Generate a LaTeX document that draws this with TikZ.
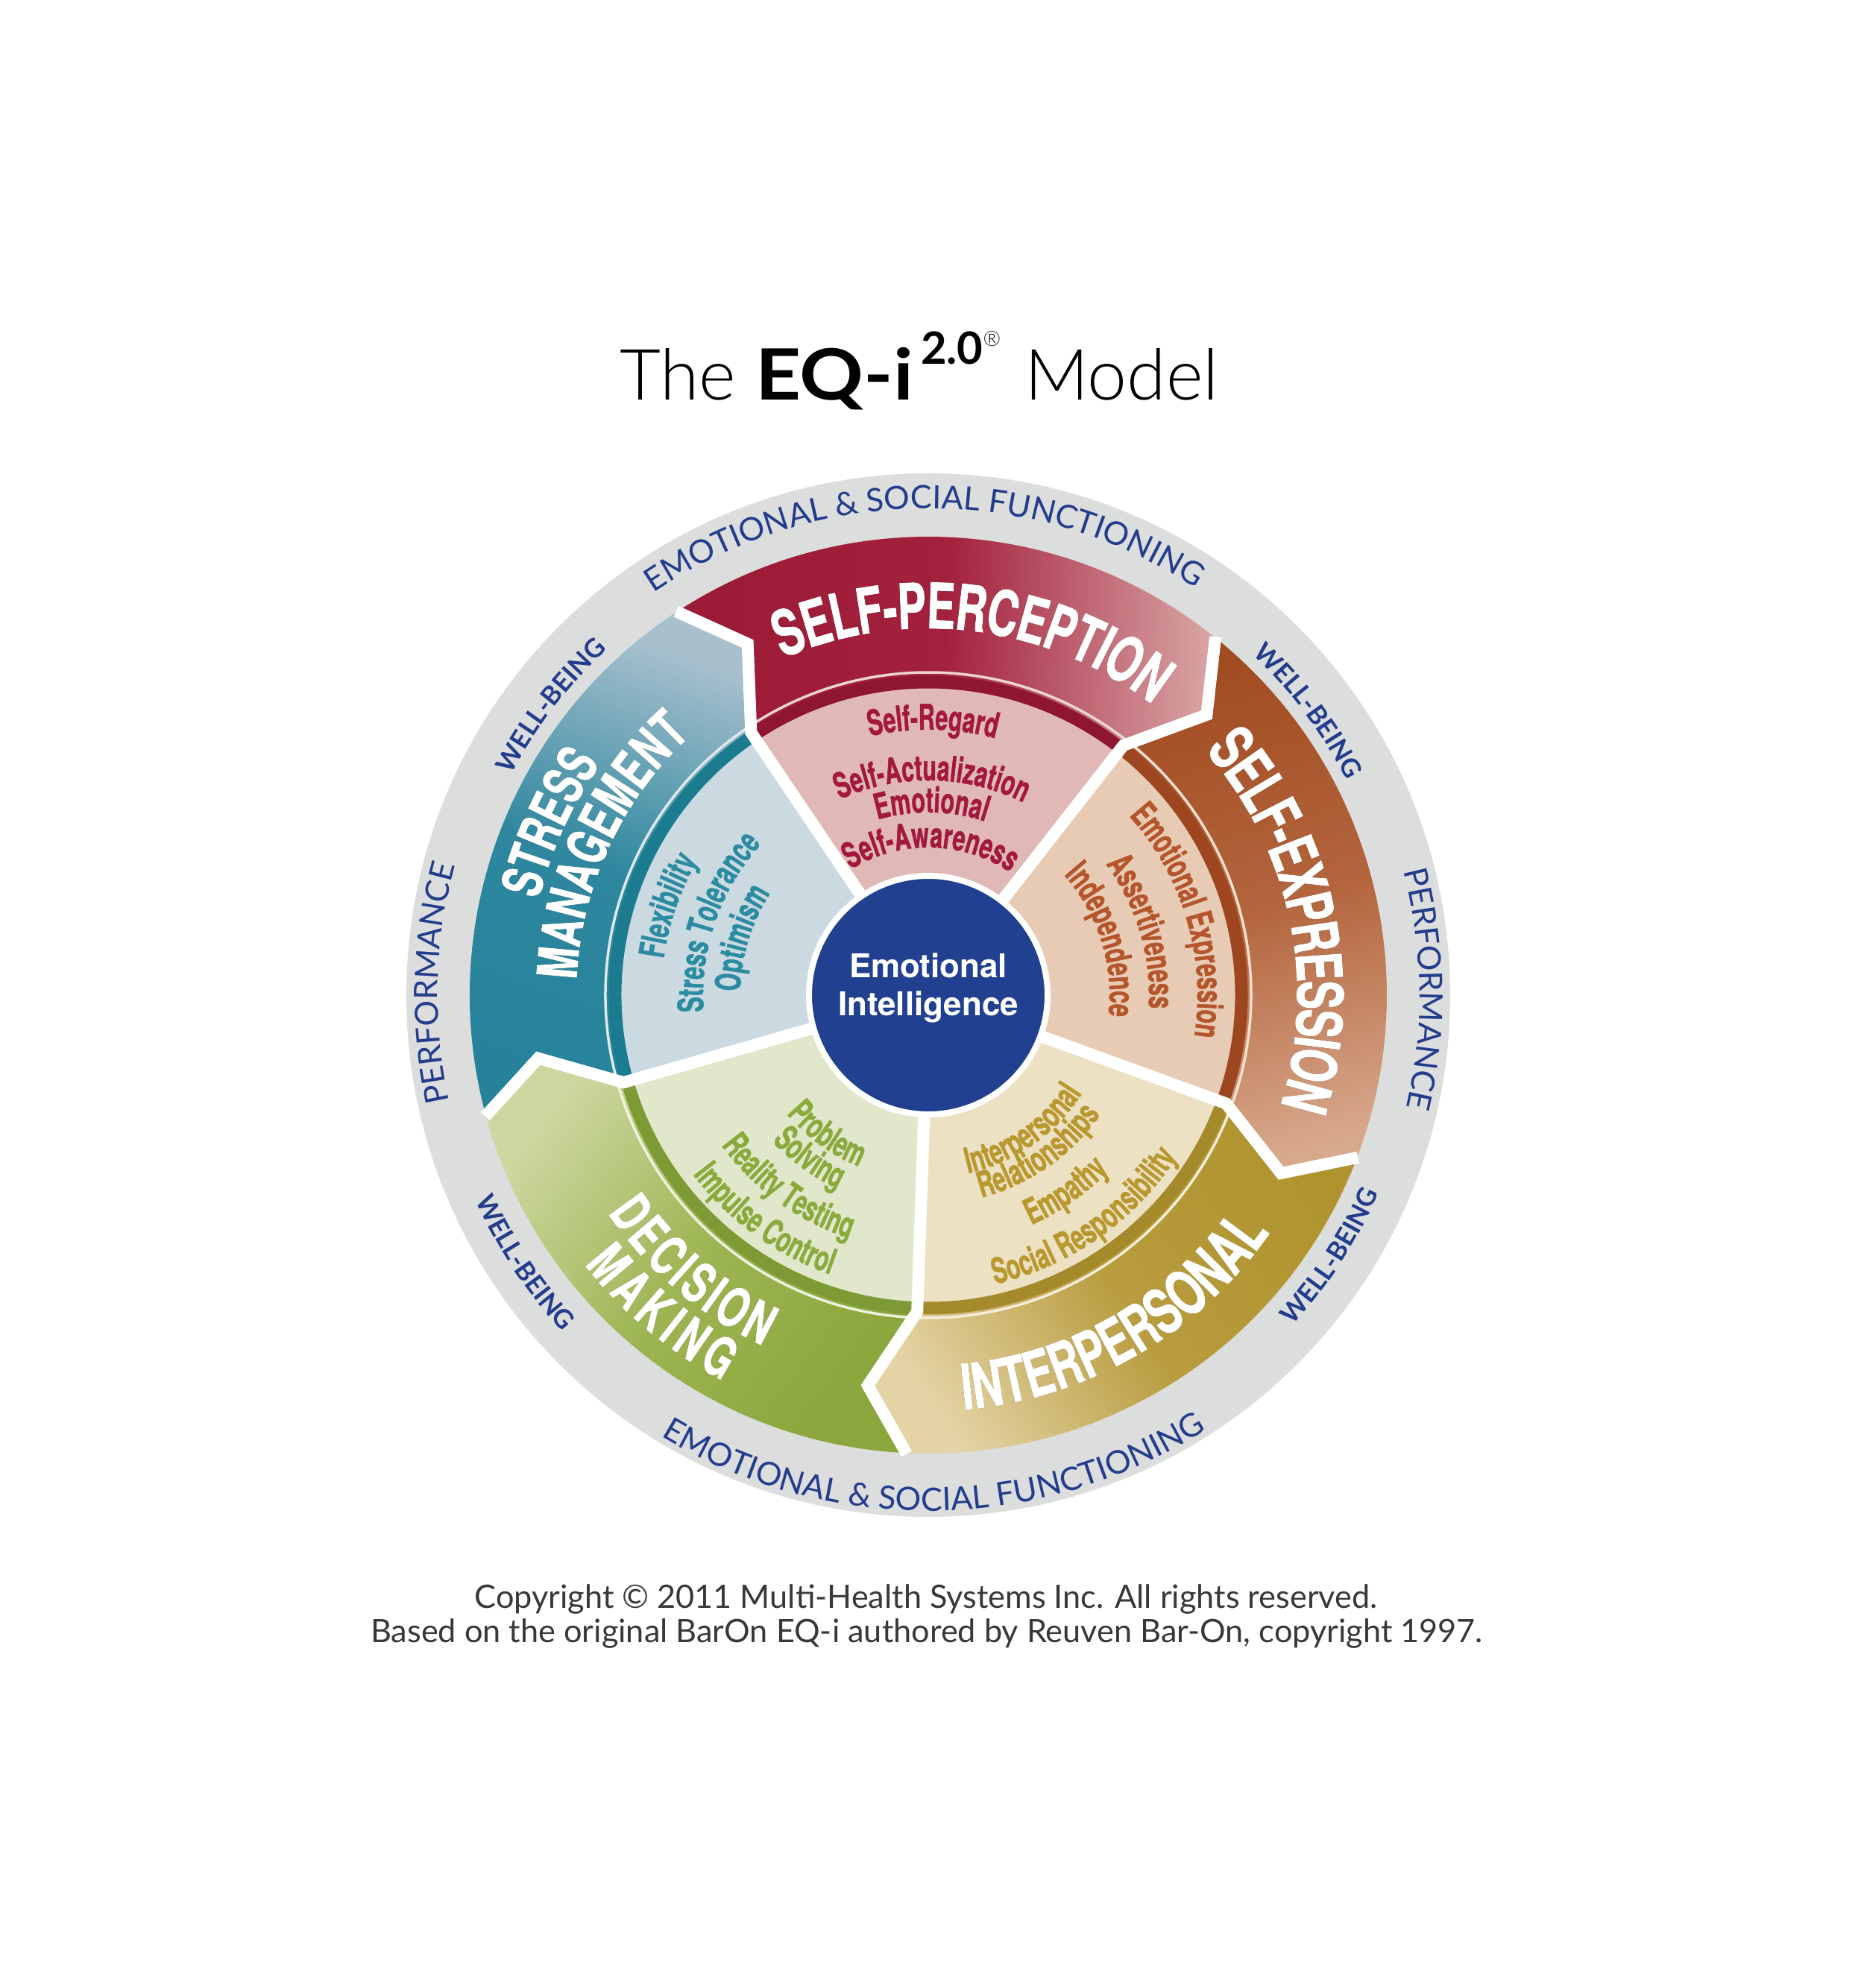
\documentclass[tikz,border=0pt]{standalone}
\usepackage{graphicx}
\usepackage{fontspec}
\setmainfont{Lato}
\newfontfamily\condfam{TeX Gyre Heros}[FakeStretch=0.68, BoldFeatures={FakeBold=1}]
\newfontfamily\subfam{TeX Gyre Heros}[FakeStretch=0.64, BoldFeatures={FakeBold=1}]
\newfontfamily\herosfam{TeX Gyre Heros}
\IfFontExistsTF{Lato Light}{\newfontfamily\titlefam{Lato Light}}{\newfontfamily\titlefam{Lato}}
\usetikzlibrary{decorations.text}

\newcommand\subfont{\subfam\bfseries\fontsize{13.5}{13.5}\selectfont}
\newcommand\ringfont{\fontsize{12.3}{12.3}\selectfont}
\newcommand\wbfont{\bfseries\fontsize{10}{10}\selectfont}

\definecolor{ringgray}{HTML}{DCDEDE}
\definecolor{ringtext}{HTML}{233C8C}
\definecolor{eiblue}{HTML}{21408F}
\definecolor{spdark}{HTML}{9B1A35}\definecolor{spmid}{HTML}{A3213D}\definecolor{splight}{HTML}{D8A3A3}
\definecolor{spinner}{HTML}{E0B9B7}\definecolor{spband}{HTML}{8E1631}\definecolor{sptext}{HTML}{A3193D}
\definecolor{sedark}{HTML}{A24C22}\definecolor{semid}{HTML}{B3653D}\definecolor{selight}{HTML}{D8A88C}
\definecolor{seinner}{HTML}{E8CBB4}\definecolor{seband}{HTML}{9D4620}\definecolor{setext}{HTML}{B5552B}
\definecolor{ipdark}{HTML}{B0942E}\definecolor{ipmid}{HTML}{B89C3E}\definecolor{iplight}{HTML}{E4D3A5}
\definecolor{ipinner}{HTML}{ECE1C3}\definecolor{ipband}{HTML}{A58A2C}\definecolor{iptext}{HTML}{B8982F}
\definecolor{dmdark}{HTML}{8BA63C}\definecolor{dmmid}{HTML}{9DB552}\definecolor{dmlight}{HTML}{CDD7A0}
\definecolor{dminner}{HTML}{E1E7CA}\definecolor{dmband}{HTML}{7E9A34}\definecolor{dmtext}{HTML}{8BAA3D}
\definecolor{smdark}{HTML}{25829A}\definecolor{smmid}{HTML}{2E879E}\definecolor{smlight}{HTML}{A8C0CE}
\definecolor{sminner}{HTML}{CBD9E1}\definecolor{smband}{HTML}{1B7C8F}\definecolor{smtext}{HTML}{2B8CA1}

\tikzset{
  catlabel/.style n args={4}{
    preaction={decorate, transform canvas={shift={(0.5mm,-0.5mm)}},
      decoration={text along path, text align=center, text color=#2,
        text={|\condfam\bfseries\fontsize{#4}{#4}\selectfont\kern#3|#1}}},
    postaction={decorate,
      decoration={text along path, text align=center, text color=white,
        text={|\condfam\bfseries\fontsize{#4}{#4}\selectfont\kern#3|#1}}}},
  sublabel/.style 2 args={decorate,
    decoration={text along path, text align=center, text color=#2, text={|\subfont|#1}}},
  ringlabel/.style={decorate,
    decoration={text along path, text align=center, text color=ringtext, text={|\ringfont|#1}}},
  wblabel/.style={decorate,
    decoration={text along path, text align=center, text color=ringtext, text={|\wbfont|#1}}},
  gap/.style={draw=white, line width=1.6mm},
  band/.style={draw=#1, line width=1.7mm},
  shine/.style={draw=#1!60!white, line width=0.35mm},
  eicircle/.style={circle, fill=eiblue, draw=white, line width=0.8mm, minimum size=3.2cm, inner sep=0pt},
  eilabel/.style={text=white, align=center, font=\herosfam\bfseries\fontsize{12.5}{14.5}\selectfont},
  titletext/.style={anchor=base, font=\titlefam\fontsize{27}{27}\selectfont},
  note/.style={anchor=base, text=black!78, font=\fontsize{12.3}{12.3}\selectfont}
}

\begin{document}
\begin{tikzpicture}
  \useasboundingbox (-12.45,-13.32) rectangle (12.55,13.35);
  \fill[white] (-12.45,-13.32) rectangle (12.55,13.35);
  \fill[ringgray] (0,0) circle[radius=7];

  \shade[top color=sedark, bottom color=selight, middle color=semid, shading angle=16]
    (-20:4.12) -- (-20:4.25) -- (-26.8:5.3) -- (-20.7:6.15) arc[start angle=-20.7, end angle=51.3, radius=6.15]
    -- (45.2:5.3) -- (52:4.25) -- (52:4.12) arc[start angle=52, end angle=-20, radius=4.12] -- cycle;
  \shade[top color=spdark, bottom color=splight, middle color=spmid, shading angle=88]
    (52:4.12) -- (52:4.25) -- (45.2:5.3) -- (51.3:6.15) arc[start angle=51.3, end angle=123.3, radius=6.15]
    -- (117.2:5.3) -- (124:4.25) -- (124:4.12) arc[start angle=124, end angle=52, radius=4.12] -- cycle;
  \shade[top color=smdark, bottom color=smlight, middle color=smmid, shading angle=160]
    (124:4.12) -- (124:4.25) -- (117.2:5.3) -- (123.3:6.15) arc[start angle=123.3, end angle=195.3, radius=6.15]
    -- (189.2:5.3) -- (196:4.25) -- (196:4.12) arc[start angle=196, end angle=124, radius=4.12] -- cycle;
  \shade[top color=dmdark, bottom color=dmlight, middle color=dmmid, shading angle=232]
    (196:4.12) -- (196:4.25) -- (189.2:5.3) -- (195.3:6.15) arc[start angle=195.3, end angle=267.3, radius=6.15]
    -- (261.2:5.3) -- (268:4.25) -- (268:4.12) arc[start angle=268, end angle=196, radius=4.12] -- cycle;
  \shade[top color=ipdark, bottom color=iplight, middle color=ipmid, shading angle=-56]
    (268:4.12) -- (268:4.25) -- (261.2:5.3) -- (267.3:6.15) arc[start angle=267.3, end angle=339.3, radius=6.15]
    -- (333.2:5.3) -- (340:4.25) -- (340:4.12) arc[start angle=340, end angle=268, radius=4.12] -- cycle;

  \fill[seinner] (0,0) -- (-20:4.12) arc[start angle=-20, end angle=52, radius=4.12] -- cycle;
  \fill[spinner] (0,0) -- (52:4.12) arc[start angle=52, end angle=124, radius=4.12] -- cycle;
  \fill[sminner] (0,0) -- (124:4.12) arc[start angle=124, end angle=196, radius=4.12] -- cycle;
  \fill[dminner] (0,0) -- (196:4.12) arc[start angle=196, end angle=268, radius=4.12] -- cycle;
  \fill[ipinner] (0,0) -- (268:4.12) arc[start angle=268, end angle=340, radius=4.12] -- cycle;

  \draw[band=seband] (-20:4.2) arc[start angle=-20, end angle=52, radius=4.2];
  \draw[band=spband] (52:4.2) arc[start angle=52, end angle=124, radius=4.2];
  \draw[band=smband] (124:4.2) arc[start angle=124, end angle=196, radius=4.2];
  \draw[band=dmband] (196:4.2) arc[start angle=196, end angle=268, radius=4.2];
  \draw[band=ipband] (268:4.2) arc[start angle=268, end angle=340, radius=4.2];
  \draw[shine=seinner] (-20:4.33) arc[start angle=-20, end angle=52, radius=4.33];
  \draw[shine=spinner] (52:4.33) arc[start angle=52, end angle=124, radius=4.33];
  \draw[shine=sminner] (124:4.33) arc[start angle=124, end angle=196, radius=4.33];
  \draw[shine=dminner] (196:4.33) arc[start angle=196, end angle=268, radius=4.33];
  \draw[shine=ipinner] (268:4.33) arc[start angle=268, end angle=340, radius=4.33];

  \draw[gap] (52:1.5) -- (52:4.25) -- (45.2:5.3) -- (51.3:6.16);
  \draw[gap] (124:1.5) -- (124:4.25) -- (117.2:5.3) -- (123.3:6.16);
  \draw[gap] (196:1.5) -- (196:4.25) -- (189.2:5.3) -- (195.3:6.16);
  \draw[gap] (268:1.5) -- (268:4.25) -- (261.2:5.3) -- (267.3:6.16);
  \draw[gap] (340:1.5) -- (340:4.25) -- (333.2:5.3) -- (339.3:6.16);

  \node[eicircle] (ei) at (0,0) {};
  \node[eilabel] (eitext) at (0,0.1) {Emotional\\Intelligence};

  \path[catlabel={SELF-PERCEPTION}{spdark!50!black}{-0.3pt}{24}] (127.8:4.92) arc[start angle=127.8, end angle=37.8, radius=4.92];
  \path[catlabel={SELF-EXPRESSION}{sedark!50!black}{-0.6pt}{24}] (56.9:4.95) arc[start angle=56.9, end angle=-33.1, radius=4.95];
  \path[catlabel={INTERPERSONAL}{ipdark!50!black}{0pt}{24}] (-105:5.58) arc[start angle=-105, end angle=-15, radius=5.58];
  \path[catlabel={DECISION}{dmdark!50!black}{1.4pt}{21}] (189.2:5.2) arc[start angle=189.2, end angle=269.2, radius=5.2];
  \path[catlabel={MAKING}{dmdark!50!black}{2.3pt}{21}] (189.6:5.86) arc[start angle=189.6, end angle=269.6, radius=5.86];
  \path[catlabel={STRESS}{smdark!50!black}{0pt}{21}] (195.5:5.38) arc[start angle=195.5, end angle=115.5, radius=5.38];
  \path[catlabel={MANAGEMENT}{smdark!50!black}{0.2pt}{21}] (195:4.72) arc[start angle=195, end angle=115, radius=4.72];

  \path[sublabel={Self-Regard}{sptext}] (149:3.56) arc[start angle=149, end angle=29, radius=3.56];
  \path[sublabel={Self-Actualization}{sptext}] (149:2.88) arc[start angle=149, end angle=29, radius=2.88];
  \path[sublabel={Emotional}{sptext}] (149:2.45) arc[start angle=149, end angle=29, radius=2.45];
  \path[sublabel={Self-Awareness}{sptext}] (149:1.98) arc[start angle=149, end angle=29, radius=1.98];

  \path[sublabel={Emotional Expression}{setext}] (76.5:3.61) arc[start angle=76.5, end angle=-43.5, radius=3.61];
  \path[sublabel={Assertiveness}{setext}] (76.5:2.96) arc[start angle=76.5, end angle=-43.5, radius=2.96];
  \path[sublabel={Independence}{setext}] (77.5:2.43) arc[start angle=77.5, end angle=-42.5, radius=2.43];

  \path[sublabel={Interpersonal}{iptext}] (-115:2.45) arc[start angle=-115, end angle=5, radius=2.45];
  \path[sublabel={Relationships}{iptext}] (-115:2.81) arc[start angle=-115, end angle=5, radius=2.81];
  \path[sublabel={Empathy}{iptext}] (-115:3.38) arc[start angle=-115, end angle=5, radius=3.38];
  \path[sublabel={Social Responsibility}{iptext}] (-115:3.98) arc[start angle=-115, end angle=5, radius=3.98];

  \path[sublabel={Problem}{dmtext}] (174:2.48) arc[start angle=174, end angle=294, radius=2.48];
  \path[sublabel={Solving}{dmtext}] (174:2.87) arc[start angle=174, end angle=294, radius=2.87];
  \path[sublabel={Reality Testing}{dmtext}] (174:3.43) arc[start angle=174, end angle=294, radius=3.43];
  \path[sublabel={Impulse Control}{dmtext}] (174:3.97) arc[start angle=174, end angle=294, radius=3.97];

  \path[sublabel={Flexibility}{smtext}] (221:3.58) arc[start angle=221, end angle=101, radius=3.58];
  \path[sublabel={Stress Tolerance}{smtext}] (221:3.02) arc[start angle=221, end angle=101, radius=3.02];
  \path[sublabel={Optimism}{smtext}] (223:2.52) arc[start angle=223, end angle=103, radius=2.52];

  \path[ringlabel={EMOTIONAL {\&} SOCIAL FUNCTIONING}] (140.5:6.53) arc[start angle=140.5, end angle=40.5, radius=6.53];
  \path[ringlabel={EMOTIONAL {\&} SOCIAL FUNCTIONING}] (220.7:6.92) arc[start angle=220.7, end angle=320.7, radius=6.92];
  \path[ringlabel={PERFORMANCE}] (208.6:6.58) arc[start angle=208.6, end angle=148.6, radius=6.58];
  \path[ringlabel={PERFORMANCE}] (30.7:6.59) arc[start angle=30.7, end angle=-29.3, radius=6.59];
  \path[wblabel={WELL-BEING}] (167.5:6.33) arc[start angle=167.5, end angle=117.5, radius=6.33];
  \path[wblabel={WELL-BEING}] (61.8:6.31) arc[start angle=61.8, end angle=11.8, radius=6.31];
  \path[wblabel={WELL-BEING}] (188.5:6.67) arc[start angle=188.5, end angle=238.5, radius=6.67];
  \path[wblabel={WELL-BEING}] (-58:6.6) arc[start angle=-58, end angle=-8, radius=6.6];

  \node[titletext] (title) at (-0.12,7.98) {The {\normalfont\bfseries\scalebox{1.12}[1]{EQ-i}}\raisebox{0.48cm}{\normalfont\bfseries\fontsize{17}{17}\selectfont\,2.0}\raisebox{0.72cm}{\fontsize{8}{8}\selectfont ®}\hspace{0.32cm}Model};
  \node[note] (copy1) at (-0.03,-8.22) {Copyright © 2011 Multi-Health Systems Inc. All rights reserved.};
  \node[note] (copy2) at (-0.02,-8.68) {Based on the original BarOn EQ-i authored by Reuven Bar-On, copyright 1997.};
\end{tikzpicture}
\end{document}
